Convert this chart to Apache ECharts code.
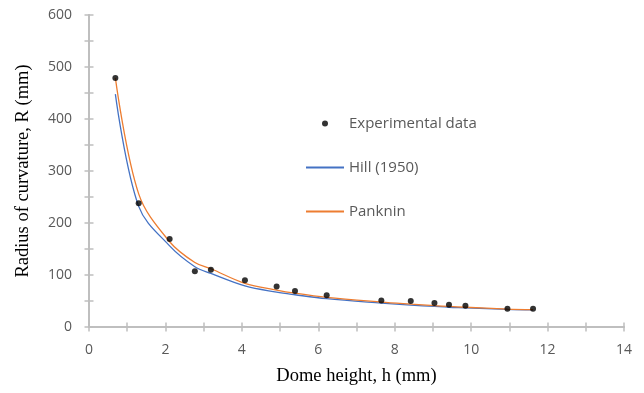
<!DOCTYPE html>
<html>
<head>
<meta charset="utf-8">
<script src="https://cdn.jsdelivr.net/npm/echarts@6/dist/echarts.min.js"></script>
<style>
  html, body {margin: 0; padding: 0; background: #fff;}
  #chart {width: 644px; height: 393px;}
</style>
</head>
<body>
<div id="chart"></div>
<script>
// dome height h (mm), same for measured points and model curves
const domeHeight = [0.69, 1.30, 2.11, 2.77, 3.19, 4.08, 4.91, 5.39, 6.22, 7.65, 8.42, 9.04, 9.42, 9.85, 10.95, 11.62];
const experimental = [479, 238, 169, 107, 110, 90, 78, 69, 61, 51, 50, 46, 43, 41, 35, 35];
const hill1950 = [448, 232, 156, 116, 103, 79, 67, 62, 54.5, 46, 42, 39.5, 38, 37, 34, 33];
const panknin = [479, 256, 164, 124, 112, 84, 71, 65, 57, 48, 44, 41, 39.5, 38, 34.5, 33.5];

const pairs = ys => domeHeight.map((h, i) => [h, ys[i]]);

const axisGrey = '#bfbfbf';
const labelColor = '#595959';
const sans = '"Open Sans", "Liberation Sans", sans-serif';
const serif = '"Liberation Serif", "DejaVu Serif", serif';

const chart = echarts.init(document.getElementById('chart'));

const xBase = {
  type: 'value',
  min: 0,
  max: 14,
  interval: 1,
  position: 'bottom',
  offset: 0,
  splitLine: {show: false},
  axisLine: {lineStyle: {color: axisGrey, width: 1.8}},
  axisTick: {length: 4.5, lineStyle: {color: axisGrey, width: 1.5}}
};
const yBase = {
  type: 'value',
  min: 0,
  max: 600,
  interval: 50,
  position: 'left',
  offset: 0,
  splitLine: {show: false},
  axisLine: {lineStyle: {color: axisGrey, width: 1.8}},
  axisTick: {length: 4.5, lineStyle: {color: axisGrey, width: 1.5}}
};

chart.setOption({
  animation: false,
  grid: {left: 89, right: 20, top: 15, bottom: 66},
  xAxis: [
    Object.assign({}, xBase, {
      name: 'Dome height, h (mm)',
      nameLocation: 'middle',
      nameGap: 40,
      nameTextStyle: {fontFamily: serif, fontSize: 18.5, color: '#000'},
      axisLabel: {
        margin: 16,
        fontFamily: sans,
        fontSize: 14,
        color: labelColor,
        formatter: v => (v % 2 === 0 ? String(v) : '')
      }
    }),
    Object.assign({}, xBase, {
      axisTick: {inside: true, length: 4.5, lineStyle: {color: axisGrey, width: 1.5}},
      axisLabel: {show: false}
    })
  ],
  yAxis: [
    Object.assign({}, yBase, {
      name: 'Radius of curvature, R (mm)',
      nameLocation: 'middle',
      nameGap: 56,
      nameTextStyle: {fontFamily: serif, fontSize: 18.5, color: '#000'},
      axisLabel: {
        margin: 17,
        fontFamily: sans,
        fontSize: 14,
        color: labelColor,
        formatter: v => (v % 100 === 0 ? String(v) : '')
      }
    }),
    Object.assign({}, yBase, {
      axisTick: {inside: true, length: 4.5, lineStyle: {color: axisGrey, width: 1.5}},
      axisLabel: {show: false}
    })
  ],
  legend: {
    orient: 'vertical',
    left: 300,
    top: 111,
    itemWidth: 38,
    itemHeight: 6,
    itemGap: 29,
    textStyle: {fontFamily: sans, fontSize: 15, color: labelColor},
    data: [
      {name: 'Experimental data', icon: 'circle'},
      {name: 'Hill (1950)', itemStyle: {color: 'rgba(0,0,0,0)', borderWidth: 0}},
      {name: 'Panknin', itemStyle: {color: 'rgba(0,0,0,0)', borderWidth: 0}}
    ]
  },
  series: [
    {
      name: 'Hill (1950)',
      type: 'line',
      data: pairs(hill1950),
      smooth: 0.35,
      symbol: 'none',
      lineStyle: {color: '#4472c4', width: 1.3},
      itemStyle: {color: '#4472c4'},
      z: 2
    },
    {
      name: 'Panknin',
      type: 'line',
      data: pairs(panknin),
      smooth: 0.35,
      symbol: 'none',
      lineStyle: {color: '#ed7d31', width: 1.3},
      itemStyle: {color: '#ed7d31'},
      z: 3
    },
    {
      name: 'Experimental data',
      type: 'scatter',
      data: pairs(experimental),
      symbol: 'circle',
      symbolSize: 6,
      itemStyle: {color: '#000'},
      z: 4
    }
  ]
});
</script>
</body>
</html>
